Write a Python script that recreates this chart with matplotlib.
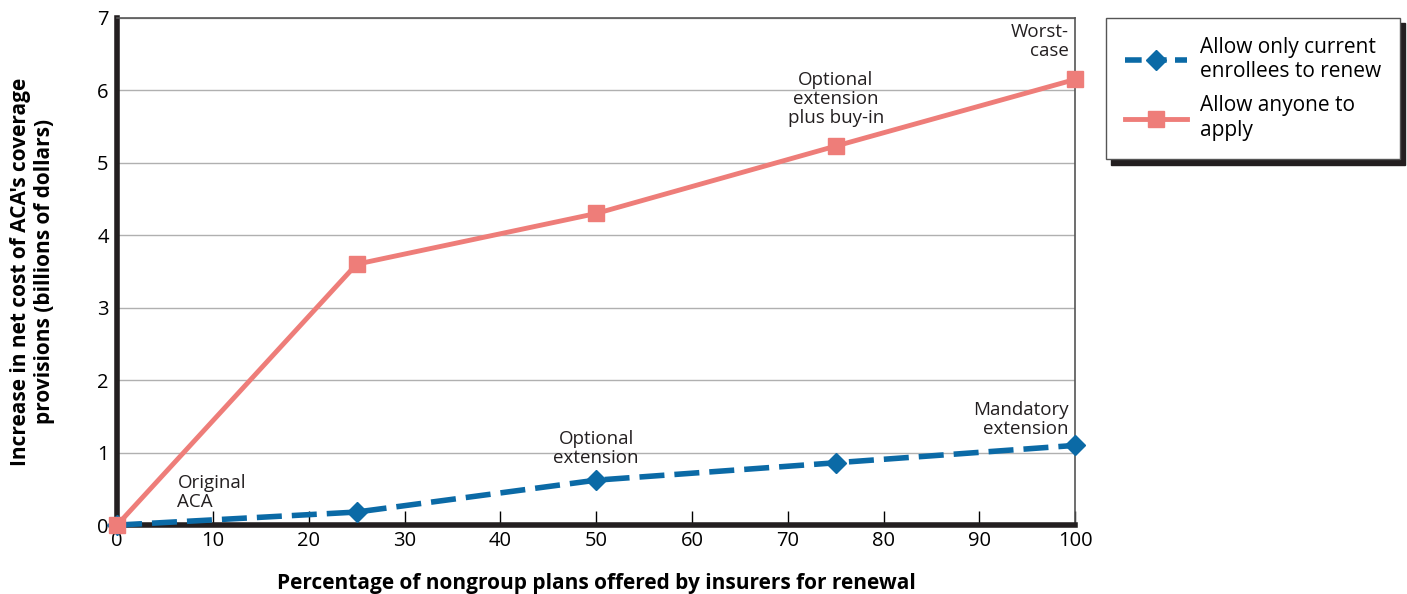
import matplotlib.pyplot as plt
from matplotlib.lines import Line2D

plt.rcParams["font.family"] = ["Open Sans", "DejaVu Sans"]

# data
pct = [0, 25, 50, 75, 100]
current_only = [0.0, 0.18, 0.62, 0.86, 1.10]
anyone = [0.0, 3.60, 4.30, 5.23, 6.15]
labels = ["Allow only current\nenrollees to renew", "Allow anyone to\napply"]

blue = "#0b6aa6"
red = "#ee7d79"

fig = plt.figure(figsize=(14.07, 5.94), dpi=100)
ax = fig.add_axes([0.0832, 0.116, 0.681, 0.854])

ax.plot(pct, current_only, color=blue, lw=4, ls=(0, (4.5, 1.8)), marker="D",
        markersize=10, zorder=3, clip_on=False)
ax.plot(pct, anyone, color=red, lw=3.5, marker="s", markersize=11,
        zorder=4, clip_on=False)

ax.set_xlim(0, 100)
ax.set_ylim(0, 7)
ax.set_xticks(range(0, 101, 10))
ax.set_yticks(range(0, 8))
ax.tick_params(axis="x", direction="in", length=10, width=1, labelsize=14.5, pad=4)
ax.tick_params(axis="y", length=0, labelsize=14.5, pad=6)
ax.yaxis.grid(True, color="#b0b0b0", lw=1)
ax.set_axisbelow(True)

for s in ["left", "bottom"]:
    ax.spines[s].set_linewidth(4)
    ax.spines[s].set_color("#231f20")
for s in ["top", "right"]:
    ax.spines[s].set_linewidth(1.2)
    ax.spines[s].set_color("#555555")

ax.set_xlabel("Percentage of nongroup plans offered by insurers for renewal",
              fontsize=15, fontweight="bold", labelpad=16)
ax.set_ylabel("Increase in net cost of ACA's coverage\nprovisions (billions of dollars)",
              fontsize=15, fontweight="bold", labelpad=30)

ann = dict(fontsize=13.5, color="#231f20", linespacing=1.05)
ax.text(6.3, 0.2, "Original\nACA", ha="left", va="bottom", **ann)
ax.text(50, 0.8, "Optional\nextension", ha="center", va="bottom", **ann)
ax.text(99.3, 1.2, "Mandatory\nextension", ha="right", va="bottom", **ann)
ax.text(75, 5.5, "Optional\nextension\nplus buy-in", ha="center", va="bottom", **ann)
ax.text(99.3, 6.42, "Worst-\ncase", ha="right", va="bottom", **ann)

# legend handles with a shorter dash so the pattern shows in the key
handles = [
    Line2D([], [], color=blue, lw=4, ls=(0, (3.0, 1.5)), marker="D", markersize=10),
    Line2D([], [], color=red, lw=3.5, marker="s", markersize=11),
]
leg = fig.legend(handles, labels, loc="upper left", bbox_to_anchor=(0.786, 0.970),
                 borderaxespad=0, fontsize=15, frameon=True, fancybox=False,
                 handlelength=3.0, labelspacing=0.65, borderpad=0.9, handletextpad=0.6,
                 shadow={"color": "#231f20", "alpha": 1, "ox": 4, "oy": -4})
leg.get_frame().set_edgecolor("#555555")
leg.get_frame().set_linewidth(1)

fig.savefig("out.png", dpi=100)
